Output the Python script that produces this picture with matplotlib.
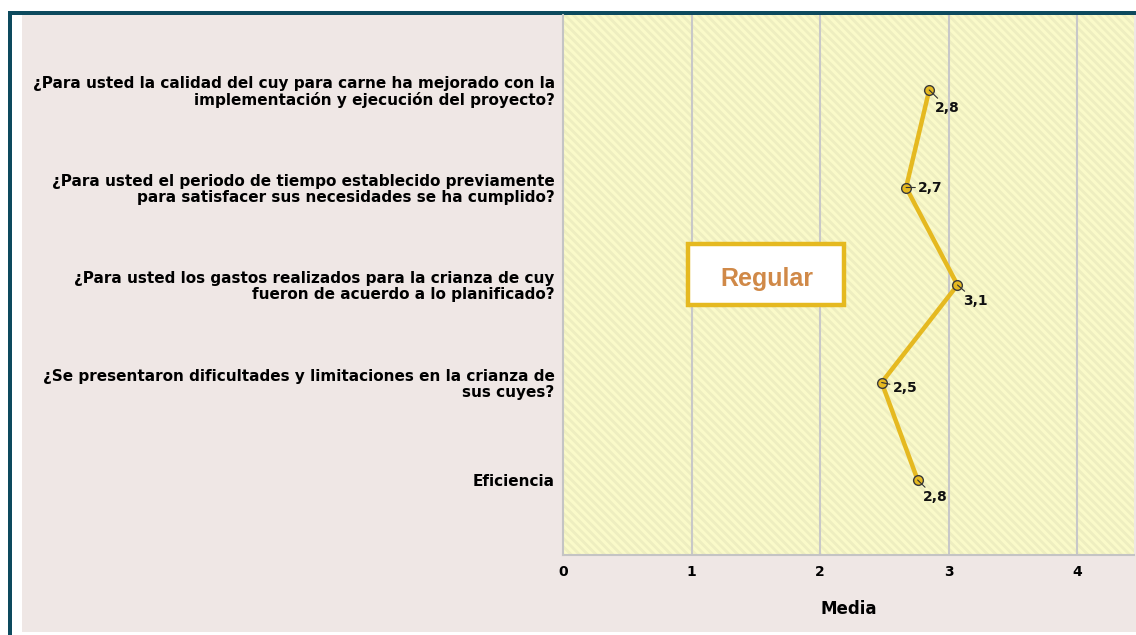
import matplotlib
matplotlib.use("Agg")
import matplotlib.pyplot as plt
from matplotlib.patches import Rectangle
import matplotlib.transforms as mtransforms
import numpy as np

# ---------------------------------------------------------------------------
# Datos
# ---------------------------------------------------------------------------
preguntas = [
    "¿Para usted la calidad del cuy para carne ha mejorado con la\nimplementación y ejecución del proyecto?",
    "¿Para usted el periodo de tiempo establecido previamente\npara satisfacer sus necesidades se ha cumplido?",
    "¿Para usted los gastos realizados para la crianza de cuy\nfueron de acuerdo a lo planificado?",
    "¿Se presentaron dificultades y limitaciones en la crianza de\nsus cuyes?",
    "Eficiencia",
]
medias = [2.85, 2.67, 3.07, 2.48, 2.76]
etiquetas = ["2,8", "2,7", "3,1", "2,5", "2,8"]
xticks = [0, 1, 2, 3, 4]
nivel = "Regular"

# offsets (px) de la etiqueta respecto al punto
offsets = [(6, -18), (12, 0), (6, -16), (11, -5), (5, -17)]

W, H = 1136, 635
GOLD = "#e5b920"
TEAL = "#0d4a5e"
BG = "#efe7e5"
LBL_FONT = ["DejaVu Sans"]

plt.rcParams["font.family"] = ["Liberation Sans", "DejaVu Sans"]
plt.rcParams["hatch.linewidth"] = 2.0
plt.rcParams["hatch.color"] = "#eeeec0"

fig = plt.figure(figsize=(W / 100, H / 100), dpi=100, facecolor="white")


def fx(px):
    return px / W


def fy(py):
    return 1 - py / H


# marco exterior
fig.patches.append(Rectangle((fx(22), fy(632)), fx(W - 22), (632 - 15) / H,
                             transform=fig.transFigure, facecolor=BG,
                             edgecolor="none", zorder=-5))
fig.patches.append(Rectangle((fx(8), 0), fx(4), fy(11),
                             transform=fig.transFigure, facecolor=TEAL,
                             edgecolor="none", zorder=-4))
fig.patches.append(Rectangle((fx(8), fy(15)), fx(W - 8), 4 / H,
                             transform=fig.transFigure, facecolor=TEAL,
                             edgecolor="none", zorder=-4))

# ejes
x0, x1, ytop, ybot = 563, 1134, 15, 555
ax = fig.add_axes([fx(x0), fy(ybot), fx(x1 - x0), (ybot - ytop) / H])
ax.set_facecolor("#fafac9")
ax.add_patch(Rectangle((0, 0), 1, 1, transform=ax.transAxes, facecolor="none",
                       edgecolor="#eeeec0", hatch="\\\\\\\\", lw=0, zorder=0))

px_per_unit = 128.5
ax.set_xlim(0, (x1 - x0) / px_per_unit)
pos = np.arange(len(preguntas))
margin = 75 / 97.5
ax.set_ylim(len(preguntas) - 1 + margin, -margin)

for xv in xticks[1:]:
    ax.axvline(xv, color="#c8c8c8", lw=1.5, zorder=1)

ax.plot(medias, pos, color=GOLD, lw=3.2, zorder=3, solid_joinstyle="miter")
ax.plot(medias, pos, "o", ms=7, mfc=GOLD, mec="#3a3a3a", mew=1.0, zorder=4)

for m, p, lab, (dx, dy) in zip(medias, pos, etiquetas, offsets):
    ax.annotate(lab, xy=(m, p), xytext=(dx * 0.72, dy * 0.72),
                textcoords="offset points", ha="left", va="center",
                fontsize=10, fontweight="bold", color="#111111",
                family=LBL_FONT,
                arrowprops=dict(arrowstyle="-", color="#333333", lw=0.8,
                                shrinkA=0, shrinkB=0), zorder=5)

ax.set_yticks(pos)
ax.set_yticklabels(preguntas, fontsize=11, fontweight="bold", ha="right",
                   linespacing=1.08, family=LBL_FONT)
# etiquetas del eje Y un poco por debajo del punto, como en el original
shift = mtransforms.ScaledTranslation(0, -3 / 100, fig.dpi_scale_trans)
for t in ax.get_yticklabels():
    t.set_transform(t.get_transform() + shift)

ax.set_xticks(xticks)
ax.set_xticklabels([str(v) for v in xticks], fontsize=10, fontweight="bold",
                   family=LBL_FONT)
ax.tick_params(axis="both", length=0)
ax.tick_params(axis="x", pad=7)
ax.tick_params(axis="y", pad=6)
ax.set_xlabel("Media", fontsize=12, fontweight="bold", labelpad=15,
              family=LBL_FONT)

for s in ["top", "right"]:
    ax.spines[s].set_visible(False)
for s in ["left", "bottom"]:
    ax.spines[s].set_color("#c4c4c4")
    ax.spines[s].set_linewidth(1.5)

# recuadro "Regular"
fig.patches.append(Rectangle((fx(688), fy(305)), fx(156), 61 / H,
                             transform=fig.transFigure, facecolor="white",
                             edgecolor=GOLD, lw=3.2, zorder=5))
fig.text(fx(767), fy(279), nivel, ha="center", va="center", fontsize=18,
         fontweight="bold", color="#d08948", zorder=6)

fig.savefig("out.png", dpi=100, facecolor="white")
